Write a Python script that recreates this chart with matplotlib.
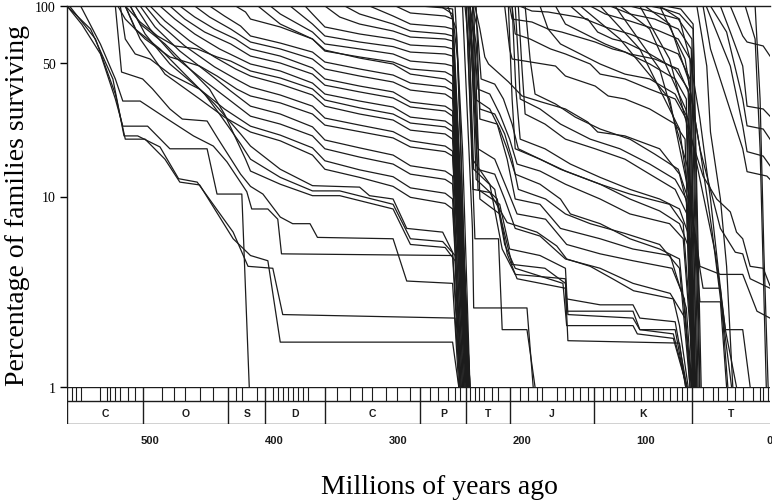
import matplotlib

matplotlib.use("Agg")
import matplotlib.pyplot as plt

# Survivorship of family cohorts: each entry is (ages in Ma, percent surviving).
# A cohort starts at 100% and is carried down to 1% when it dies out.
cambrian_ordovician = [
    ([567, 548, 530, 521, 510, 492, 477, 462, 433, 421, 401, 393, 254, 250],
     [100, 75.7, 41.4, 20.8, 20.8, 18.2, 12.4, 11.9, 6.5, 4.3, 4.2, 2.4, 2.3, 1.0]),
    ([565, 544, 528, 520, 504, 488, 476, 460, 433, 419, 405, 395, 256, 251],
     [100, 67, 34.5, 20, 20, 15.7, 11.9, 11.5, 6.0, 4.9, 4.6, 1.72, 1.72, 1.0]),
    ([567, 555, 540, 528, 522, 502, 484, 454, 446, 426, 420],
     [100, 80, 56, 32.5, 23.4, 23.4, 17.8, 17.8, 10.3, 10.3, 1.0]),
    ([556, 540, 528, 522, 508, 486, 465, 449, 438, 422, 418, 405, 397, 394, 256, 250],
     [100, 63, 41.4, 31.7, 31.7, 25.5, 20.8, 18.4, 15.2, 10.6, 8.6, 8.6, 7.6, 5.0, 4.9, 1.0]),
    ([528, 523, 506, 498, 484, 474, 454, 445, 427, 419, 409, 395, 385, 371, 365, 304, 293, 256, 251],
     [100, 45, 41.4, 36.7, 28.8, 25.5, 24.9, 20, 13.1, 11.3, 10.3, 7.8, 7.2, 7.2, 6.1, 6.0, 3.6, 3.5, 1.0]),
    ([524, 520, 512, 500, 484, 460, 448, 427, 419, 395, 369, 331, 323, 304, 293, 264, 256, 249],
     [100, 67.1, 56.0, 52.7, 43.9, 36.6, 30.6, 21.3, 18.4, 13.9, 11.4, 11.2, 10.1, 9.7, 6.8, 6.5, 5.1, 1.0]),
    ([520, 512, 492, 472, 456, 444, 427, 419, 395, 369, 347, 304, 290, 264, 254, 249],
     [100, 75.7, 59.5, 43.9, 34.5, 27.1, 18.9, 15.7, 12.6, 10.7, 10.7, 9.1, 6.0, 5.8, 4.9, 1.0]),
    ([516, 508, 488, 468, 452, 440, 423, 419, 395, 369, 347, 304, 290, 262, 254, 250],
     [100, 80.4, 63.2, 46.7, 36.6, 27.1, 15.7, 13.6, 11.6, 10.1, 10.1, 8.6, 5.6, 5.4, 4.6, 1.0]),
]

ordovician_silurian = [
    ([520, 508, 488, 460, 440, 419, 395, 369, 359, 331, 304, 290, 262, 256, 248],
     [100, 67.1, 43.9, 32.5, 26.1, 21.8, 19.6, 16.5, 13.9, 12.6, 11.3, 9.9, 9.2, 8.6, 1.0]),
    ([516, 504, 484, 460, 440, 419, 395, 369, 359, 331, 304, 290, 262, 256, 248],
     [100, 71.3, 49.6, 36.6, 28.8, 23.4, 21.0, 18.0, 15.4, 13.8, 12.7, 11.1, 10.4, 9.7, 1.0]),
    ([512, 500, 480, 456, 437, 419, 395, 369, 359, 331, 304, 290, 262, 256, 247],
     [100, 75.7, 54.0, 40.4, 32.5, 26.4, 24.0, 20.8, 17.8, 16.1, 14.8, 13.1, 12.3, 11.6, 1.0]),
    ([508, 496, 476, 452, 435, 419, 395, 369, 359, 331, 304, 290, 262, 256, 247],
     [100, 77.6, 58.0, 43.9, 35.8, 29.8, 27.1, 23.2, 19.8, 18.0, 16.5, 14.5, 13.6, 12.8, 1.0]),
    ([526, 520, 504, 484, 460, 446, 430, 419, 395, 369, 359, 331, 304, 290, 262, 256, 246],
     [100, 85.4, 67.1, 54.0, 48.4, 42.9, 36.6, 33.7, 31.0, 27.1, 23.7, 21.9, 20.3, 18.2, 17.2, 16.3, 1.0]),
    ([504, 492, 472, 448, 431, 419, 395, 369, 359, 331, 304, 290, 262, 256, 246],
     [100, 80.4, 61.7, 47.9, 41.4, 37.6, 34.1, 29.8, 25.8, 23.7, 21.9, 19.6, 18.4, 17.3, 1.0]),
    ([500, 488, 468, 448, 431, 419, 395, 369, 359, 331, 304, 290, 262, 256, 245],
     [100, 83.4, 65.5, 54.0, 46.7, 42.9, 38.9, 34.1, 29.8, 27.1, 25.2, 22.3, 21.3, 20.0, 1.0]),
    ([520, 508, 494, 480, 462, 446, 435, 419, 395, 369, 359, 331, 304, 290, 262, 256, 245],
     [100, 82.4, 69.6, 61.7, 59.5, 54.0, 51.4, 45.6, 41.9, 36.7, 32.1, 29.2, 27.1, 24.3, 23.2, 21.9, 1.0]),
    ([492, 480, 464, 444, 419, 395, 369, 359, 331, 304, 290, 262, 256, 245],
     [100, 85.4, 71.3, 59.5, 49.6, 45.6, 39.4, 34.5, 31.7, 29.5, 26.1, 24.9, 23.4, 1.0]),
    ([484, 472, 456, 435, 419, 395, 369, 359, 331, 304, 290, 262, 256, 244.5],
     [100, 85.4, 73.0, 63.2, 54.6, 50.2, 43.9, 38.4, 35.4, 32.9, 29.5, 28.1, 26.4, 1.0]),
    ([476, 464, 448, 431, 419, 395, 369, 359, 331, 304, 290, 262, 256, 244.5],
     [100, 87.5, 75.7, 67.1, 59.5, 54.6, 47.3, 41.4, 38.0, 35.4, 31.3, 29.8, 28.1, 1.0]),
    ([464, 452, 435, 419, 395, 369, 359, 331, 304, 290, 262, 256, 244],
     [100, 87.5, 75.7, 64.7, 59.5, 52.7, 46.7, 42.9, 39.9, 36.2, 34.5, 32.5, 1.0]),
    ([452, 440, 427, 419, 395, 369, 359, 331, 304, 290, 262, 256, 244],
     [100, 88.6, 78.5, 69.6, 63.9, 57.3, 50.8, 46.7, 43.4, 39.4, 37.6, 35.8, 1.0]),
    ([431, 423, 419, 395, 369, 359, 331, 304, 290, 262, 256, 243.5],
     [100, 93.0, 85.4, 77.6, 67.1, 58.7, 53.3, 49.6, 43.9, 41.4, 38.9, 1.0]),
]

late_paleozoic = [
    ([413, 395, 369, 359, 331, 304, 290, 262, 256, 243.5],
     [100, 80.4, 67.1, 58.0, 54.0, 50.8, 46.7, 45.1, 42.9, 1.0]),
    ([403, 395, 369, 359, 331, 304, 290, 262, 256, 243],
     [100, 90.8, 73.0, 63.2, 59.5, 56.0, 51.4, 49.6, 48.4, 1.0]),
    ([387, 369, 359, 331, 304, 290, 262, 256, 243],
     [100, 80.4, 69.6, 64.7, 61.2, 57.3, 56.0, 54.6, 1.0]),
    ([375, 369, 359, 331, 304, 290, 262, 256, 242.5],
     [100, 90.8, 77.6, 71.3, 67.1, 62.4, 61.0, 59.5, 1.0]),
    ([359, 347, 331, 304, 290, 262, 256, 242.5],
     [100, 87.5, 80.4, 73.9, 68.7, 67.1, 65.5, 1.0]),
    ([343, 331, 304, 290, 262, 256, 242.5],
     [100, 90.8, 80.4, 73.9, 71.3, 69.6, 1.0]),
    ([323, 304, 290, 262, 256, 242], [100, 88.6, 80.4, 77.6, 75.7, 1.0]),
    ([302, 290, 262, 256, 242], [100, 91.9, 88.6, 85.4, 1.0]),
    ([282, 262, 256, 242], [100, 97.6, 96.4, 1.0]),
    ([266, 256, 252, 243], [100, 90.8, 52.7, 1.0]),
    ([260, 253, 250, 243.5], [100, 75.7, 25.5, 1.0]),
    ([254, 248, 242], [100, 17.8, 1.0]),
]

triassic = [
    ([245, 238, 219, 216, 196, 189.5], [100, 6.0, 6.0, 2.0, 2.0, 1.0]),
    ([248, 240, 239, 196, 191], [100, 6.8, 2.6, 2.6, 1.0]),
    ([246, 242, 239.5, 226, 212, 188, 172, 164, 145, 127, 110, 78, 73, 66],
     [100, 52.7, 10.9, 10.5, 7.3, 6.5, 5.5, 4.7, 4.3, 3.7, 3.2, 2.9, 2.1, 1.0]),
    ([243.5, 240, 238, 226, 218, 212, 205.5, 185.5, 169, 161, 137, 113, 89, 73, 63],
     [100, 59.5, 32.5, 28.8, 22.6, 17.8, 13.1, 11.6, 9.7, 8.1, 7.2, 6.0, 5.3, 4.7, 1.0]),
    ([242, 239, 235.5, 226, 218, 210, 204, 185.5, 165, 137, 113, 81, 70, 61],
     [100, 67.1, 36.6, 34.5, 27.1, 20.0, 14.8, 13.6, 11.6, 9.7, 8.1, 7.2, 6.0, 1.0]),
    ([242, 237, 234, 222, 214, 208, 203, 181, 165, 145, 117, 89, 73, 64.5],
     [100, 63.2, 28.8, 27.1, 21.3, 15.7, 10.9, 9.7, 8.1, 7.2, 6.4, 5.6, 4.2, 1.0]),
    ([240, 236, 233, 222, 215, 208, 203, 185.5, 169, 137, 113, 81, 70, 60.5],
     [100, 75.7, 41.4, 38.9, 32.5, 24.0, 17.8, 15.7, 13.9, 11.6, 10.3, 9.1, 7.2, 1.0]),
    ([238, 234, 230, 227, 211, 200, 184, 165, 147, 139, 117, 89, 73, 66, 60],
     [100, 75.7, 54.0, 49.6, 40.0, 33.7, 31.3, 28.8, 24.6, 21.8, 20.8, 17.8, 13.1, 8.6, 1.0]),
    ([243.5, 239.5, 236, 222, 214, 205.5, 185.5, 165, 137, 110.5, 80.5, 68.5, 63.5],
     [100, 41.4, 13.9, 13.1, 9.7, 6.8, 6.2, 4.7, 4.2, 3.5, 3.1, 2.3, 1.0]),
    ([242, 235.5, 222, 212, 204, 181, 164, 137, 110.5, 79, 69, 64.5],
     [100, 17.8, 15.7, 10.9, 8.1, 7.6, 5.6, 5.0, 4.6, 4.2, 2.9, 1.0]),
    ([237, 234, 220, 212, 205.5, 185.5, 169, 137, 110.5, 80.5, 67.5, 63],
     [100, 25.5, 24.0, 15.7, 9.7, 9.1, 6.8, 6.0, 5.3, 4.9, 2.6, 1.0]),
    ([245, 240, 226, 216, 205.5, 165, 164, 110.5, 105, 78, 67],
     [100, 15.7, 11.6, 5.3, 3.9, 3.7, 2.5, 2.5, 2.0, 1.9, 1.0]),
    ([243.5, 239, 222, 214, 205.5, 167, 164, 110.5, 107, 78, 67],
     [100, 13.9, 10.9, 5.6, 4.2, 3.5, 2.1, 2.1, 1.9, 1.8, 1.0]),
    ([242, 237, 220, 212, 204, 165, 163, 73, 68],
     [100, 12.3, 9.7, 5.0, 3.7, 3.3, 1.75, 1.7, 1.0]),
    ([240, 235.5, 218, 210, 185.5, 165, 163, 110.5, 105, 76.5, 68],
     [100, 10.9, 9.1, 5.3, 4.9, 4.2, 2.4, 2.3, 2.0, 2.0, 1.0]),
    ([239, 234, 218, 208, 181.5, 165, 164, 137, 110.5, 105, 76.5, 67],
     [100, 9.7, 8.1, 4.4, 4.2, 3.5, 2.9, 2.7, 2.7, 2.3, 2.2, 1.0]),
]

jurassic = [
    ([214, 210, 208, 173, 165, 141, 130.5, 117, 97, 76.5, 68.5, 62],
     [100, 59.5, 52.7, 48.4, 42.9, 38.0, 33.7, 32.5, 28.8, 24.0, 20.0, 1.0]),
    ([210, 208, 192, 179, 168, 141, 127, 117, 97, 76.5, 67.5, 61],
     [100, 85.4, 82.4, 75.7, 73.0, 64.7, 59.5, 57.3, 49.6, 41.4, 32.5, 1.0]),
    ([202, 192, 179, 160, 147, 139, 127, 117, 97, 76.5, 66, 60.5],
     [100, 94.1, 93.0, 88.6, 85.4, 73.0, 67.1, 64.7, 56.0, 46.7, 36.6, 1.0]),
    ([208, 205.5, 193.5, 177, 165, 145, 137, 117, 97, 76.5, 67.5, 62],
     [100, 71.3, 67.1, 59.5, 56.0, 49.6, 43.9, 41.4, 36.6, 32.5, 25.5, 1.0]),
    ([205.5, 203, 201.5, 185.5, 169, 145, 121, 97, 76.5, 67.5, 63],
     [100, 52.7, 32.5, 28.8, 24.0, 20.0, 17.8, 14.8, 12.3, 9.7, 1.0]),
    ([203, 200, 197.5, 181.5, 165, 141, 117, 97, 76.5, 67, 62],
     [100, 46.7, 27.1, 24.0, 20.0, 17.8, 15.7, 13.1, 10.9, 8.1, 1.0]),
    ([197.5, 193.5, 189.5, 173, 157, 137, 113, 93, 74, 66, 61],
     [100, 52.7, 34.5, 30.6, 26.1, 22.6, 20.0, 16.7, 13.9, 9.7, 1.0]),
    ([185.5, 179, 169, 153, 137, 117, 97, 76.5, 66, 60.5],
     [100, 75.7, 63.2, 56.0, 49.6, 43.9, 41.4, 34.5, 25.5, 1.0]),
    ([173, 165, 149, 133, 113, 93, 74, 65, 60],
     [100, 80.4, 71.3, 63.2, 56.0, 52.7, 46.7, 34.5, 1.0]),
    ([161, 149, 133, 113, 93, 74, 64.5, 59],
     [100, 85.4, 77.6, 71.3, 63.2, 56.0, 41.4, 1.0]),
    ([208, 205, 201.5, 181.5, 161, 137, 113, 89, 73, 64.5, 61],
     [100, 36.6, 20.0, 17.8, 14.8, 12.6, 10.9, 9.7, 8.6, 6.0, 1.0]),
    ([211, 208, 205.5, 185.5, 165, 137, 113, 89, 73, 65, 62],
     [100, 32.5, 17.8, 15.7, 13.6, 11.6, 9.7, 8.4, 7.2, 5.3, 1.0]),
]

cretaceous = [
    ([145, 133, 113, 93, 74, 64.5, 59], [100, 90.8, 83.4, 75.7, 67.1, 52.7, 1.0]),
    ([129, 113, 93, 74, 63.5, 58], [100, 90.8, 85.4, 75.7, 59.5, 1.0]),
    ([113, 97, 74, 63, 57], [100, 94.1, 85.4, 67.1, 1.0]),
    ([97, 85, 73, 62, 56.5], [100, 96.4, 90.8, 75.7, 1.0]),
    ([85, 72, 62, 55.5], [100, 96.4, 80.4, 1.0]),
    ([89, 73, 64.5, 56.5, 48, 40, 34], [100, 85.4, 52.7, 25.5, 9.7, 3.3, 1.0]),
    ([101, 81, 66, 56.5, 47, 39, 31], [100, 80.4, 41.4, 17.8, 6.8, 2.6, 1.0]),
    ([121, 97, 68, 56.5, 44, 36, 27], [100, 75.7, 28.8, 12.3, 5.0, 2.0, 1.0]),
    ([153, 121, 81, 64.5, 56.5, 40, 22, 10.5, 0],
     [100, 67.1, 32.5, 9.7, 4.3, 3.9, 3.9, 2.5, 2.3]),
    ([137, 105, 73, 60.5, 54, 40, 36, 22, 16],
     [100, 59.5, 22.6, 6.0, 3.3, 3.3, 2.0, 2.0, 1.0]),
    ([125, 89, 66, 56.5, 40, 35], [100, 46.7, 13.9, 2.8, 2.8, 1.0]),
    ([105, 81, 66, 54, 43, 32, 27, 22, 16, 5.5, 0],
     [100, 52.7, 22.6, 12.8, 9.7, 8.3, 6.5, 6.0, 4.3, 4.2, 3.4]),
    ([89, 68.5, 56.5, 40, 28, 22, 16, 0], [100, 52.7, 17.8, 6.8, 5.1, 5.0, 3.7, 3.3]),
]

tertiary = [
    ([59, 51, 48, 40, 35, 30], [100, 48.4, 21.8, 9.7, 4.3, 1.0]),
    ([54, 48, 35, 22, 18.5, 2.5, 0], [100, 59.5, 32.5, 17.8, 13.5, 12.8, 12.3]),
    ([51.5, 32, 22, 18.5, 5.5, 0], [100, 48.4, 23.5, 17.2, 16.3, 14.5]),
    ([48, 35, 22, 18.5, 5.5, 0], [100, 73.0, 32.5, 23.5, 22.6, 20.0]),
    ([40, 32, 22, 18.5, 5.5, 0], [100, 73.0, 48.4, 29.8, 28.8, 26.4]),
    ([32, 22, 18.5, 5.5, 0], [100, 69.6, 64.7, 61.7, 54.6]),
    ([12, 8, 5, 1.5], [100, 32.5, 5.3, 1.0]),
    ([20, 12, 8, 3], [100, 67.1, 17.8, 1.0]),
]

# geological time scale under the plot
period_names = ["C", "O", "S", "D", "C", "P", "T", "J", "K", "T"]
period_bounds = [567, 506, 437, 407, 359, 282, 245, 210, 142, 63, 0]
stage_bounds = [563, 560, 556, 540, 535, 532, 528, 524, 518, 512, 490, 481, 472,
                460, 449, 431, 426, 414, 401, 397, 393, 389, 385, 381, 377, 373,
                349, 339, 329, 321, 310, 301, 290, 274, 268, 260, 254, 250, 242,
                238, 235, 231, 224, 219, 202, 195, 188, 184, 172, 165, 159, 153,
                147, 135, 129, 123, 117, 110, 104, 94, 90, 86, 81, 75, 71, 67, 54,
                46, 42, 35, 28, 22, 14, 8, 6, 2]
age_ticks = [500, 400, 300, 200, 100, 0]
pct_ticks = [1, 10, 50, 100]

SERIF = ["Liberation Serif", "DejaVu Serif"]
SANS = ["Liberation Sans", "DejaVu Sans"]
INK = "#1c1c1c"
W, H = 772, 502


def draw_cohorts(ax, groups):
    for group in groups:
        for ages, pct in group:
            ax.plot(ages, pct, color=INK, linewidth=0.9)


def draw_timescale(ax):
    ax.set_xlim(567, 0)
    ax.set_ylim(0, 1)
    ax.axis("off")
    ax.hlines([1.0, 0.62, 0.0], 567, 0, color=INK, linewidth=1.0)
    ax.vlines(stage_bounds, 0.62, 1.0, color=INK, linewidth=0.8)
    ax.vlines(period_bounds[:-1], 0.0, 1.0, color=INK, linewidth=1.0)
    for name, a, b in zip(period_names, period_bounds[:-1], period_bounds[1:]):
        ax.text((a + b) / 2, 0.3, name, ha="center", va="center",
                fontsize=7.5, fontweight="bold", family=SANS, color=INK)
    for t in age_ticks:
        ax.text(t, -0.42, str(t), ha="center", va="center", fontsize=8,
                fontweight="bold", family=SANS, color=INK, clip_on=False)


def main():
    fig = plt.figure(figsize=(W / 100, H / 100), dpi=100)
    ax = fig.add_axes([67 / W, 114 / H, 703 / W, 381 / H])
    draw_cohorts(ax, [cambrian_ordovician, ordovician_silurian, late_paleozoic,
                      triassic, jurassic, cretaceous, tertiary])

    ax.set_xlim(567, 0)
    ax.set_yscale("log")
    ax.set_ylim(1, 100)
    ax.set_xticks([])
    ax.set_yticks(pct_ticks)
    ax.set_yticklabels([str(v) for v in pct_ticks], family=SERIF, fontsize=10)
    ax.yaxis.set_minor_locator(matplotlib.ticker.NullLocator())
    ax.tick_params(axis="y", direction="out", length=5, width=1, pad=3)
    for side in ("right", "bottom"):
        ax.spines[side].set_visible(False)
    for side in ("left", "top"):
        ax.spines[side].set_linewidth(1.0)
        ax.spines[side].set_color(INK)

    ax_ts = fig.add_axes([67 / W, 77 / H, 703 / W, 37 / H])
    draw_timescale(ax_ts)

    fig.text(18 / W, 1 - 206 / H, "Percentage of families surviving",
             rotation=90, ha="center", va="center", fontsize=20, family=SERIF)
    fig.text(439 / W, 1 - 488 / H, "Millions of years ago",
             ha="center", va="center", fontsize=20, family=SERIF)

    fig.savefig("out.png", dpi=100)
    plt.close(fig)


if __name__ == "__main__":
    main()
